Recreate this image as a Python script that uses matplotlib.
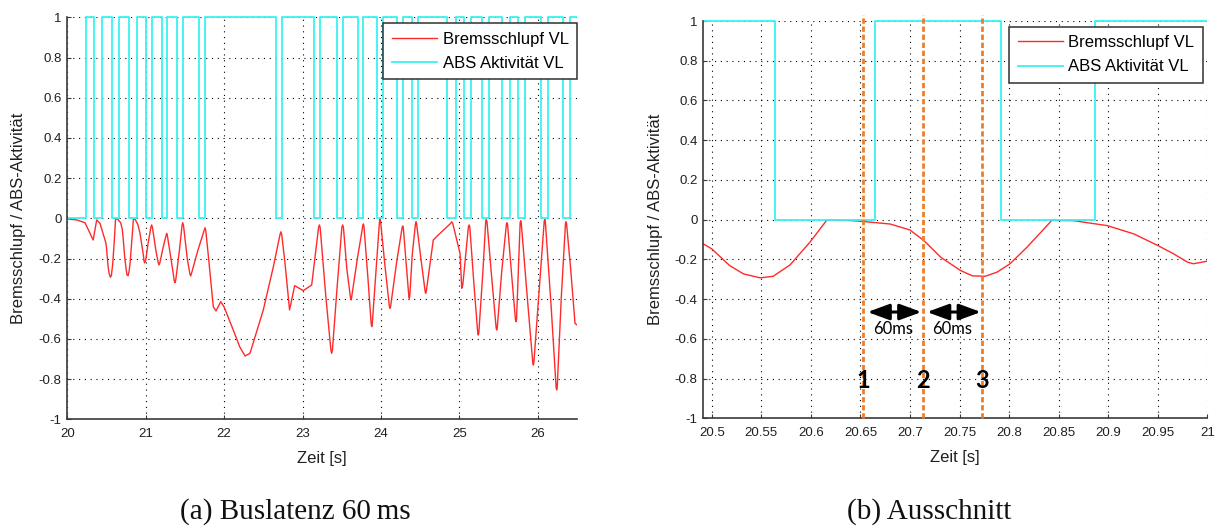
import matplotlib
matplotlib.use("Agg")
import matplotlib.pyplot as plt
from matplotlib.patches import Rectangle

# ---------------------------------------------------------------- data
# Brake slip, front left wheel (time in s, slip as negative fraction)
slip_t = [
    20.000, 20.120, 20.226, 20.290, 20.330, 20.375, 20.417, 20.455,
    20.4915, 20.500, 20.518, 20.532, 20.549, 20.562, 20.579, 20.599,
    20.616, 20.638, 20.650, 20.680, 20.700, 20.714, 20.731, 20.751,
    20.763, 20.776, 20.788, 20.801, 20.818, 20.832, 20.843, 20.865,
    20.899, 20.926, 20.950, 20.966, 20.980, 20.986, 21.000,
    21.030, 21.066, 21.076, 21.086, 21.130, 21.160, 21.170, 21.180,
    21.225, 21.260, 21.268, 21.276, 21.330, 21.364, 21.374, 21.384,
    21.430, 21.464, 21.472, 21.482, 21.530, 21.564, 21.574, 21.584,
    21.665, 21.748, 21.756, 21.766, 21.800, 21.862, 21.897, 21.957,
    21.999, 22.117, 22.200, 22.267, 22.330, 22.500, 22.628, 22.715,
    22.725, 22.735, 22.777, 22.835, 22.900, 23.010, 23.117, 23.205,
    23.215, 23.225, 23.300, 23.362, 23.372, 23.382, 23.440, 23.502,
    23.512, 23.522, 23.565, 23.612, 23.619, 23.626, 23.700, 23.768,
    23.776, 23.784, 23.835, 23.876, 23.883, 23.890, 23.940, 23.982,
    23.989, 23.996, 24.050, 24.108, 24.116, 24.124, 24.200, 24.270,
    24.278, 24.286, 24.325, 24.356, 24.362, 24.368, 24.400, 24.441,
    24.448, 24.455, 24.510, 24.564, 24.571, 24.580, 24.668, 24.732,
    24.890, 24.903, 24.916, 25.009, 25.031, 25.045, 25.116, 25.125,
    25.134, 25.185, 25.235, 25.242, 25.249, 25.300, 25.337, 25.345,
    25.353, 25.410, 25.470, 25.477, 25.484, 25.540, 25.600, 25.608,
    25.616, 25.665, 25.716, 25.723, 25.730, 25.776, 25.783, 25.790,
    25.860, 25.937, 25.944, 25.951, 26.020, 26.083, 26.090, 26.097,
    26.170, 26.235, 26.242, 26.249, 26.300, 26.354, 26.361, 26.368,
    26.420, 26.476, 26.500,
]
slip = [
    -0.003, -0.008, -0.022, -0.075, -0.108, -0.008, -0.025, -0.075,
    -0.122, -0.147, -0.231, -0.273, -0.293, -0.285, -0.228, -0.114,
    -0.003, -0.004, -0.008, -0.022, -0.052, -0.105, -0.189, -0.256,
    -0.283, -0.285, -0.264, -0.222, -0.139, -0.064, -0.004, -0.005,
    -0.030, -0.072, -0.130, -0.172, -0.214, -0.222, -0.209,
    -0.125, -0.045, -0.033, -0.045, -0.160, -0.222, -0.232, -0.222,
    -0.140, -0.085, -0.075, -0.085, -0.220, -0.310, -0.320, -0.305,
    -0.160, -0.035, -0.022, -0.035, -0.200, -0.277, -0.287, -0.275,
    -0.160, -0.058, -0.047, -0.060, -0.190, -0.440, -0.461, -0.415,
    -0.440, -0.556, -0.640, -0.685, -0.672, -0.456, -0.241, -0.078,
    -0.067, -0.080, -0.224, -0.456, -0.335, -0.360, -0.332, -0.045,
    -0.033, -0.045, -0.400, -0.655, -0.672, -0.655, -0.350, -0.045,
    -0.033, -0.045, -0.250, -0.395, -0.406, -0.395, -0.200, -0.040,
    -0.028, -0.040, -0.300, -0.525, -0.539, -0.525, -0.250, -0.015,
    -0.005, -0.015, -0.230, -0.438, -0.448, -0.438, -0.220, -0.048,
    -0.038, -0.048, -0.240, -0.388, -0.398, -0.388, -0.180, -0.027,
    -0.017, -0.027, -0.200, -0.363, -0.373, -0.360, -0.108, -0.083,
    -0.025, -0.017, -0.025, -0.174, -0.348, -0.330, -0.043, -0.033,
    -0.043, -0.320, -0.570, -0.581, -0.570, -0.270, -0.016, -0.006,
    -0.016, -0.280, -0.545, -0.556, -0.545, -0.270, -0.032, -0.022,
    -0.032, -0.270, -0.503, -0.514, -0.503, -0.022, -0.012, -0.022,
    -0.360, -0.718, -0.730, -0.718, -0.350, -0.015, -0.005, -0.015,
    -0.430, -0.842, -0.854, -0.842, -0.400, -0.027, -0.017, -0.027,
    -0.250, -0.523, -0.530,
]

# ABS activity, front left wheel: switching instants and level after each one
abs_t = [
    20.000, 20.239, 20.344, 20.439, 20.564, 20.665, 20.792, 20.887,
    21.003, 21.077, 21.204, 21.276, 21.395, 21.472, 21.684, 21.760,
    22.662, 22.739, 23.151, 23.223, 23.440, 23.517, 23.708, 23.778,
    23.944, 24.027, 24.205, 24.288, 24.403, 24.473, 24.839, 24.954,
    25.066, 25.145, 25.290, 25.385, 25.551, 25.647, 25.749, 25.844,
    26.042, 26.128, 26.329, 26.412, 26.500,
]
abs_level = [
    0, 1, 0, 1, 0, 1, 0, 1,
    0, 1, 0, 1, 0, 1, 0, 1,
    0, 1, 0, 1, 0, 1, 0, 1,
    0, 1, 0, 1, 0, 1, 0, 1,
    0, 1, 0, 1, 0, 1, 0, 1,
    0, 1, 0, 1, 1,
]

# Bus latency markers in the detail view
latency = 0.060
marker_t0 = 20.653
marker_names = ["1", "2", "3"]
latency_label = "60ms"

# Axis ticks
y_ticks = [1.0, 0.8, 0.6, 0.4, 0.2, 0.0, -0.2, -0.4, -0.6, -0.8, -1.0]
y_tick_labels = ["1", "0.8", "0.6", "0.4", "0.2", "0", "-0.2", "-0.4", "-0.6", "-0.8", "-1"]
x_ticks_full = [20, 21, 22, 23, 24, 25, 26]
x_tick_labels_full = ["20", "21", "22", "23", "24", "25", "26"]
x_ticks_detail = [20.5, 20.55, 20.6, 20.65, 20.7, 20.75, 20.8, 20.85, 20.9, 20.95, 21.0]
x_tick_labels_detail = ["20.5", "20.55", "20.6", "20.65", "20.7", "20.75",
                        "20.8", "20.85", "20.9", "20.95", "21"]

series_names = ["Bremsschlupf VL", "ABS Aktivität VL"]
y_label = "Bremsschlupf / ABS-Aktivität"
x_label = "Zeit [s]"
captions = ["(a) Buslatenz 60\u2009ms", "(b) Ausschnitt"]

# ---------------------------------------------------------------- style
SANS = ["Liberation Sans", "DejaVu Sans"]
RED = "#ff2a2a"
CYAN = "#38f2f2"
ORANGE = "#ee7d2a"
SPINE = "#3a3a3a"

W, H = 1217, 529
fig = plt.figure(figsize=(W / 100, H / 100), dpi=100)
fig.patch.set_facecolor("white")


def px_axes(x0, y0, x1, y1):
    return fig.add_axes([x0 / W, 1 - y1 / H, (x1 - x0) / W, (y1 - y0) / H])


ax_full = px_axes(67.3, 17.3, 576.9, 419.3)
ax_det = px_axes(703.3, 21.0, 1207.3, 418.3)


def style_axes(ax, xlim, xt, xtl, xlab_y, ylab_x, legend_anchor):
    ax.set_xlim(*xlim)
    ax.set_ylim(-1, 1)
    ax.set_yticks(y_ticks)
    ax.set_yticklabels(y_tick_labels)
    ax.set_xticks(xt)
    ax.set_xticklabels(xtl)
    for lab in ax.get_xticklabels() + ax.get_yticklabels():
        lab.set_family(SANS)
        lab.set_fontsize(9.5)
        lab.set_color("#202020")
    ax.tick_params(axis="both", direction="in", length=3, width=0.8,
                   color=SPINE)
    ax.tick_params(axis="x", pad=6.0)
    ax.tick_params(axis="y", pad=4.2)
    for side in ("top", "right"):
        ax.spines[side].set_visible(False)
    for side in ("left", "bottom"):
        ax.spines[side].set_color(SPINE)
        ax.spines[side].set_linewidth(1.2)
    ax.grid(True, color="black", linestyle=(0, (1.0, 4.2)), linewidth=0.8)
    ax.set_axisbelow(True)
    ax.set_xlabel(x_label, family=SANS, fontsize=12, va="center", color="#202020")
    ax.xaxis.set_label_coords(0.5, xlab_y)
    ax.set_ylabel(y_label, family=SANS, fontsize=12, va="center", color="#202020")
    ax.yaxis.set_label_coords(ylab_x, 0.5)

    clip = Rectangle((0, -0.006), 1, 1.012, transform=ax.transAxes,
                     facecolor="none", edgecolor="none")
    ax.add_patch(clip)
    l1, = ax.plot(slip_t, slip, color=RED, lw=1.0, label=series_names[0])
    l2, = ax.step(abs_t, abs_level, where="post", color=CYAN, lw=1.3,
                  label=series_names[1])
    for ln in (l1, l2):
        ln.set_clip_path(clip)

    leg = ax.legend(loc="upper right", bbox_to_anchor=legend_anchor,
                    borderaxespad=0, prop={"family": SANS, "size": 12},
                    handlelength=2.7, handletextpad=0.35, borderpad=0.5,
                    labelspacing=0.55, fancybox=False, framealpha=1,
                    edgecolor="#303030")
    leg.get_frame().set_linewidth(1.1)
    leg.set_zorder(10)


style_axes(ax_full, (20, 26.5), x_ticks_full, x_tick_labels_full,
           -0.0963, -0.0961, (1.0, 0.985))
style_axes(ax_det, (20.4915, 21.0), x_ticks_detail, x_tick_labels_detail,
           -0.0999, -0.0948, (0.991, 0.985))

# latency markers: dashed verticals, numbers and double arrows
marks = [marker_t0 + i * latency for i in range(len(marker_names))]
for tm, name in zip(marks, marker_names):
    ax_det.plot([tm, tm], [-1, 1.03], color=ORANGE, lw=2.0,
                linestyle=(0, (1.9, 1.0)), clip_on=False, zorder=4)
    ax_det.text(tm, -0.81, name, family=["Lato", "DejaVu Sans"],
                fontweight="bold", fontsize=17, ha="center", va="center",
                color="black", zorder=6)

arrow_y = -0.465
for a, b in zip(marks[:-1], marks[1:]):
    ax_det.annotate("", xy=(b, arrow_y), xytext=(a, arrow_y),
                    arrowprops=dict(arrowstyle="<|-|>,head_length=0.6,head_width=0.22",
                                    mutation_scale=22, color="black", lw=2.2,
                                    shrinkA=3, shrinkB=1),
                    zorder=6)
    ax_det.text((a + b) / 2, -0.55, latency_label, family=["Lato", "DejaVu Sans"],
                fontsize=12, ha="center", va="center", color="black", zorder=6)

# sub-figure captions
fig.text(295 / W, 1 - 512 / H, captions[0], family=["Liberation Serif", "DejaVu Serif"],
         fontsize=21, ha="center", va="center", color="#111111")
fig.text(929 / W, 1 - 512 / H, captions[1], family=["Liberation Serif", "DejaVu Serif"],
         fontsize=21, ha="center", va="center", color="#111111")

fig.savefig("out.png", dpi=100, facecolor="white")
